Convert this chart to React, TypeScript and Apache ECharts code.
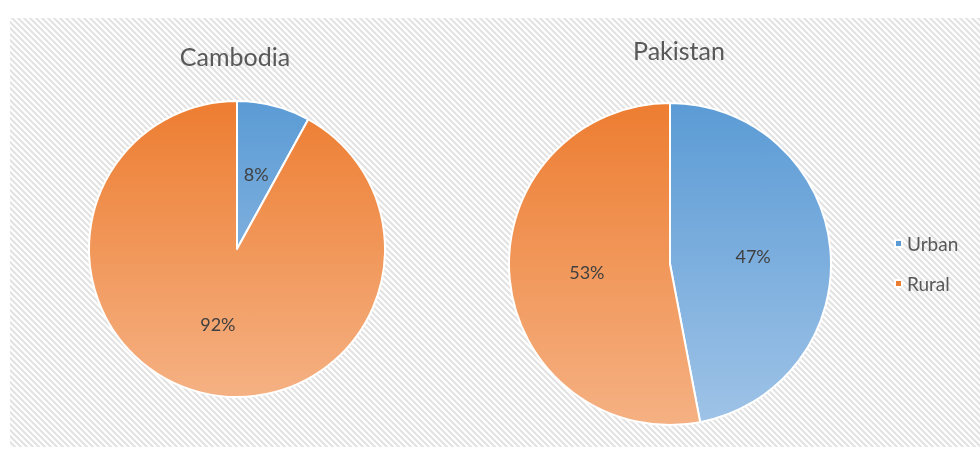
import React, { useEffect, useRef } from "react";
import * as echarts from "echarts";

const categories = ["Urban", "Rural"];
const countries = ["Cambodia", "Pakistan"];
const cambodiaValues = [8, 92];
const pakistanValues = [47, 53];

const FONT = "Lato, 'Open Sans', sans-serif";

const hatchSvg =
  "data:image/svg+xml;utf8," +
  encodeURIComponent(
    "<svg xmlns='http://www.w3.org/2000/svg' width='6' height='6'>" +
      "<rect width='6' height='6' fill='#ffffff'/>" +
      "<path d='M-1,-1 L7,7 M-4,2 L2,8 M2,-4 L8,2' stroke='#e2e2e2' stroke-width='2'/>" +
      "</svg>"
  );

function grad(y1: number, y2: number, top: string, bottom: string) {
  return {
    type: "linear",
    x: 0,
    y: y1,
    x2: 0,
    y2: y2,
    global: true,
    colorStops: [
      { offset: 0, color: top },
      { offset: 1, color: bottom },
    ],
  };
}

const BLUE_TOP = "#5B9BD5";
const BLUE_BOT = "#9FC3E7";
const ORANGE_TOP = "#ED7D31";
const ORANGE_BOT = "#F5B183";

export default function App() {
  const ref = useRef<HTMLDivElement>(null);
  useEffect(() => {
    if (!ref.current) return;
    const chart = echarts.init(ref.current, undefined, { renderer: "svg" });

    const pies = [
      { name: countries[0], values: cambodiaValues, cx: 237, cy: 249, r: 148 },
      { name: countries[1], values: pakistanValues, cx: 670, cy: 264, r: 161 },
    ];

    const series = pies.map((p) => ({
      type: "pie",
      name: p.name,
      center: [p.cx, p.cy],
      radius: [0, p.r],
      startAngle: 90,
      clockwise: true,
      avoidLabelOverlap: false,
      label: {
        show: true,
        position: "inside",
        formatter: "{c}%",
        fontSize: 18,
        color: "#404040",
        fontFamily: FONT,
      },
      labelLine: { show: false },
      emphasis: { disabled: true },
      itemStyle: { borderColor: "#ffffff", borderWidth: 2 },
      data: categories.map((c, i) => ({
        name: c,
        value: p.values[i],
        itemStyle: {
          color:
            i === 0
              ? grad(p.cy - p.r, p.cy + p.r, BLUE_TOP, BLUE_BOT)
              : grad(p.cy - p.r, p.cy + p.r, ORANGE_TOP, ORANGE_BOT),
        },
      })),
    }));

    chart.setOption({
      animation: false,
      graphic: [
        {
          type: "rect",
          z: -10,
          shape: { x: 10, y: 18, width: 970, height: 429 },
          style: { fill: { image: hatchSvg, repeat: "repeat" } as any },
          silent: true,
        },
      ],
      title: [
        {
          text: countries[0],
          left: 230,
          top: 38,
          textAlign: "center",
          textStyle: { fontSize: 25, fontWeight: "normal", color: "#595959", fontFamily: FONT },
        },
        {
          text: countries[1],
          left: 674,
          top: 32,
          textAlign: "center",
          textStyle: { fontSize: 25, fontWeight: "normal", color: "#595959", fontFamily: FONT },
        },
      ],
      legend: {
        orient: "vertical",
        left: 889,
        top: 229,
        itemWidth: 7,
        itemHeight: 7,
        itemGap: 21,
        icon: "rect",
        data: categories,
        textStyle: { fontSize: 19, color: "#595959", fontFamily: FONT },
      },
      series,
    } as any);
    return () => chart.dispose();
  }, []);
  return (
    <div
      ref={ref}
      style={{ position: "fixed", left: 0, top: 0, width: 980, height: 449 }}
    />
  );
}
